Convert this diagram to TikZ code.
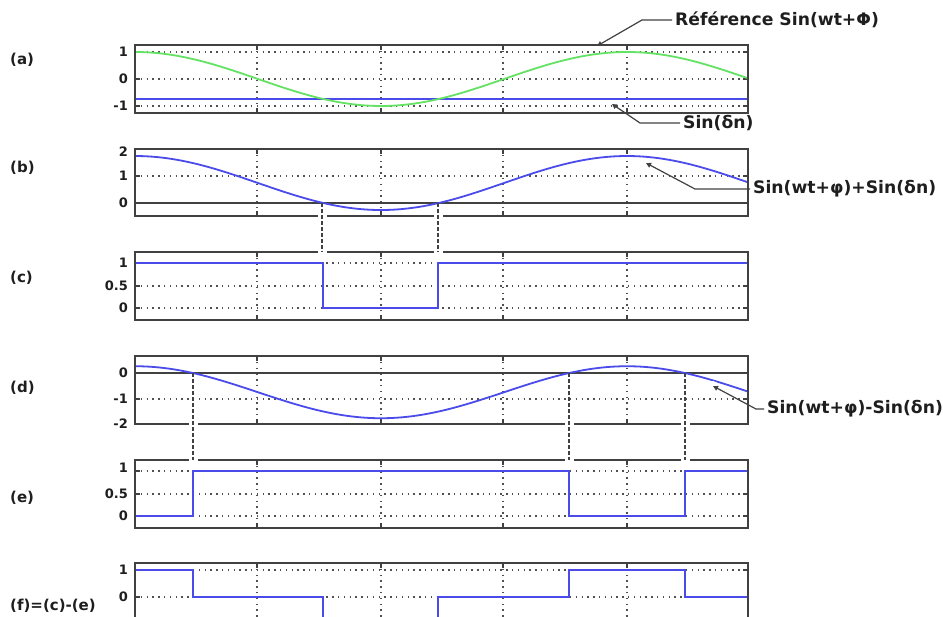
\documentclass[tikz,border=0pt]{standalone}
\usepackage{fontspec}
\setmainfont{DejaVu Sans}
\usetikzlibrary{arrows.meta}
\definecolor{axc}{RGB}{65,65,65}
\definecolor{gridc}{RGB}{80,80,80}
\definecolor{sigblue}{RGB}{75,75,235}
\definecolor{siggreen}{RGB}{100,226,100}
\definecolor{txtc}{RGB}{30,30,30}
\tikzset{
  frame/.style={draw=axc, line width=1.8pt},
  tickm/.style={draw=axc, line width=1.4pt},
  gridl/.style={draw=gridc, line width=1.3pt, dash pattern=on 1.4pt off 4.4pt},
  zeroline/.style={draw=axc, line width=1.5pt},
  sig/.style={draw=sigblue, line width=1.8pt},
  refsig/.style={draw=siggreen, line width=1.8pt},
  conn/.style={draw=axc, line width=2.6pt, dash pattern=on 4pt off 2pt},
  gapl/.style={draw=white, line width=9pt},
  leader/.style={draw=axc, line width=1.2pt, -{Triangle[length=5pt,width=5pt]}},
  ticklab/.style={anchor=east, inner sep=0pt, text=txtc, font=\bfseries\fontsize{13}{15}\selectfont},
  panlab/.style={anchor=west, inner sep=0pt, text=txtc, font=\bfseries\fontsize{15}{18}\selectfont},
  legend/.style={anchor=west, inner sep=3pt, text=txtc, font=\bfseries\fontsize{17.2}{20}\selectfont},
}
\newcommand\mypanel[2]{%
  \foreach \gx in {257,381,503,627} {
    \draw[gridl] (\gx,#1) -- (\gx,#2);
    \draw[tickm] (\gx,#1) -- ++(0,5);
    \draw[tickm] (\gx,#2) -- ++(0,-5);
  }%
}
\newcommand\myhgrid[1]{%
  \draw[gridl] (135,#1) -- (748,#1);
  \draw[tickm] (135,#1) -- ++(5,0);
  \draw[tickm] (748,#1) -- ++(-5,0);
}
\begin{document}
\begin{tikzpicture}[x=1pt,y=-1pt]
\useasboundingbox[fill=white] (0,0) rectangle (943,617);

% ---------- panel (a)
\mypanel{45}{113}
\myhgrid{52}\myhgrid{79}\myhgrid{106}
\draw[sig] (135,99) -- (748,99);
\draw[refsig] plot[domain=135:748, samples=160] (\x, {79-27*cos(0.731707*(\x-135))});
\draw[frame] (135,45) rectangle (748,113);
\node[ticklab] (ta1) at (128,52) {1};
\node[ticklab] (ta0) at (128,79) {0};
\node[ticklab] (tam) at (128,106) {-1};
\node[panlab] (la) at (10,60) {(a)};

% ---------- panel (b)
\mypanel{149}{216}
\myhgrid{176}
\draw[zeroline] (135,203) -- (748,203);
\draw[sig] plot[domain=135:748, samples=160] (\x, {203-27*(cos(0.731707*(\x-135))+0.74)});
\draw[frame] (135,149) rectangle (748,216);
\node[ticklab] (tb2) at (128,152) {2};
\node[ticklab] (tb1) at (128,176) {1};
\node[ticklab] (tb0) at (128,203) {0};
\node[panlab] (lb) at (10,168) {(b)};

% ---------- panel (c)
\mypanel{252}{320}
\myhgrid{263}\myhgrid{286}\myhgrid{308}
\draw[sig] (135,263) -- (323,263) -- (323,308) -- (438,308) -- (438,263) -- (748,263);
\draw[frame] (135,252) rectangle (748,320);
\node[ticklab] (tc1) at (128,263) {1};
\node[ticklab] (tc5) at (128,286) {0.5};
\node[ticklab] (tc0) at (128,308) {0};
\node[panlab] (lc) at (10,278) {(c)};

% ---------- panel (d)
\mypanel{356}{424}
\myhgrid{399}
\draw[zeroline] (135,373) -- (748,373);
\draw[sig] plot[domain=135:748, samples=160] (\x, {373-26*(cos(0.731707*(\x-135))-0.74)});
\draw[frame] (135,356) rectangle (748,424);
\node[ticklab] (td0) at (128,373) {0};
\node[ticklab] (td1) at (128,399) {-1};
\node[ticklab] (td2) at (128,424) {-2};
\node[panlab] (ld) at (10,388) {(d)};

% ---------- panel (e)
\mypanel{460}{528}
\myhgrid{471}\myhgrid{494}\myhgrid{516}
\draw[sig] (135,516) -- (193,516) -- (193,471) -- (569,471) -- (569,516) -- (685,516) -- (685,471) -- (748,471);
\draw[frame] (135,460) rectangle (748,528);
\node[ticklab] (te1) at (128,468) {1};
\node[ticklab] (te5) at (128,494) {0.5};
\node[ticklab] (te0) at (128,516) {0};
\node[panlab] (le) at (10,498) {(e)};

% ---------- panel (f)
\mypanel{563}{640}
\myhgrid{570}\myhgrid{597}
\draw[sig] (135,570) -- (193,570) -- (193,597) -- (323,597) -- (323,624) -- (438,624) -- (438,597) -- (569,597) -- (569,570) -- (685,570) -- (685,597) -- (748,597);
\draw[frame] (135,640) -- (135,563) -- (748,563) -- (748,640);
\node[ticklab] (tf1) at (128,570) {1};
\node[ticklab] (tf0) at (128,597) {0};
\node[panlab] (lf) at (10,606) {(f)=(c)-(e)};

% ---------- dashed connectors (b)->(c)
\coordinate (bz1) at (322,203); \coordinate (ct1) at (322,252);
\coordinate (bz2) at (438,203); \coordinate (ct2) at (438,252);
\coordinate (bg1) at (322,212); \coordinate (cg1) at (322,256);
\coordinate (bg2) at (438,212); \coordinate (cg2) at (438,256);
\draw[gapl] (bg1) -- (cg1);
\draw[gapl] (bg2) -- (cg2);
\draw[conn] (bz1) -- (ct1);
\draw[conn] (bz2) -- (ct2);

% ---------- dashed connectors (d)->(e)
\coordinate (dz1) at (193,373); \coordinate (et1) at (193,460);
\coordinate (dz2) at (569,373); \coordinate (et2) at (569,460);
\coordinate (dz3) at (685,373); \coordinate (et3) at (685,460);
\coordinate (dg1) at (193,420); \coordinate (eg1) at (193,464);
\coordinate (dg2) at (569,420); \coordinate (eg2) at (569,464);
\coordinate (dg3) at (685,420); \coordinate (eg3) at (685,464);
\draw[gapl] (dg1) -- (eg1);
\draw[gapl] (dg2) -- (eg2);
\draw[gapl] (dg3) -- (eg3);
\draw[conn] (dz1) -- (et1);
\draw[conn] (dz2) -- (et2);
\draw[conn] (dz3) -- (et3);

% ---------- legends
\node[legend] (lref) at (672,20) {Référence Sin(wt+Φ)};
\coordinate (rb) at (642,20); \coordinate (ra) at (597,46);
\draw[leader] (lref.west) -- (rb) -- (ra);

\node[legend] (lsd) at (680,123) {Sin(δn)};
\coordinate (sb) at (640,123); \coordinate (sa) at (612,104);
\draw[leader] (lsd.west) -- (sb) -- (sa);

\node[legend] (lsum) at (750,189) {Sin(wt+φ)+Sin(δn)};
\coordinate (pb) at (695,189); \coordinate (pa) at (646,163);
\draw[leader] (lsum.west) -- (pb) -- (pa);

\fill[white] (713,386) circle (5);
\node[legend] (ldif) at (764,409) {Sin(wt+φ)-Sin(δn)};
\coordinate (mb) at (756,409); \coordinate (ma) at (713,386);
\draw[leader] (ldif.west) -- (mb) -- (ma);
\end{tikzpicture}
\end{document}
